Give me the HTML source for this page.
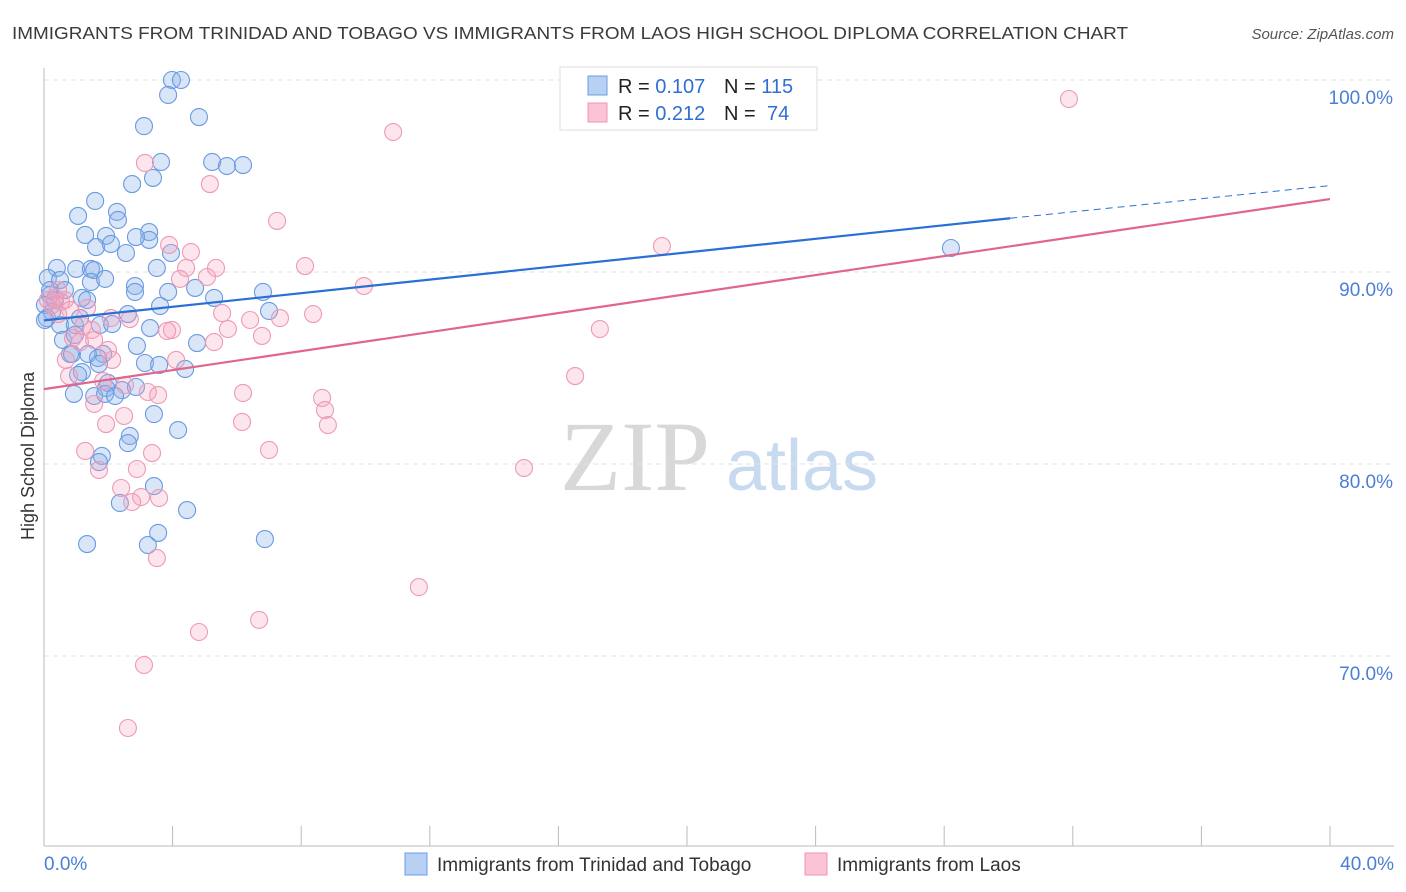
<!DOCTYPE html>
<html><head><meta charset="utf-8"><style>
body{margin:0;background:#fff;font-family:"Liberation Sans",sans-serif;}
svg{display:block}
</style></head><body>
<svg id="chart" width="1406" height="892" viewBox="0 0 1406 892">
<text x="12" y="39" font-size="17.5" fill="#3a3a3a" textLength="1116" lengthAdjust="spacingAndGlyphs">IMMIGRANTS FROM TRINIDAD AND TOBAGO VS IMMIGRANTS FROM LAOS HIGH SCHOOL DIPLOMA CORRELATION CHART</text>
<text x="1394" y="39" font-size="15" fill="#555" text-anchor="end" font-style="italic">Source: ZipAtlas.com</text>
<g>
<text x="635" y="490" font-size="100" fill="#d8d8d8" text-anchor="middle" font-family="Liberation Serif,serif">ZIP</text>
<text x="802" y="490" font-size="72" fill="#c8daf0" text-anchor="middle">atlas</text>
</g>
<g id="grid"></g>
<g id="axes"></g>
<g id="points"></g>
<g id="lines"></g>
<text transform="translate(34,456) rotate(-90)" font-size="18" fill="#333" text-anchor="middle">High School Diploma</text>
<g>
<rect x="560" y="67" width="257" height="63" fill="#fff" stroke="#ddd"/>
<rect x="588" y="76" width="19" height="19" fill="#b7d0f4" stroke="#6a9de0"/>
<rect x="588" y="103" width="19" height="19" fill="#fac4d4" stroke="#ec94b0"/>
<text x="618" y="93" font-size="20" fill="#222">R = <tspan fill="#2f6fd4">0.107</tspan><tspan x="724">N = </tspan><tspan fill="#2f6fd4">115</tspan></text>
<text x="618" y="120" font-size="20" fill="#222">R = <tspan fill="#2f6fd4">0.212</tspan><tspan x="724">N = </tspan><tspan fill="#2f6fd4" x="767">74</tspan></text>
</g>
<g>
<rect x="405" y="853" width="22" height="22" fill="#b7d0f4" stroke="#6a9de0"/>
<text x="437" y="871" font-size="19" fill="#333">Immigrants from Trinidad and Tobago</text>
<rect x="805" y="853" width="22" height="22" fill="#fac4d4" stroke="#ec94b0"/>
<text x="837" y="871" font-size="19" fill="#333">Immigrants from Laos</text>
</g>
</svg>
<script>
const yTicks=[70,80,90,100];
const yTickLabels=["70.0%","80.0%","90.0%","100.0%"];
const xTickLabels=["0.0%","40.0%"];
const bluePx=[[172,80],[181,80],[168,95],[199,117],[144,126],[161,162],[212,162],[227,166],[243,165],[132,184],[153,178],[95,201],[78,216],[117,212],[118,220],[85,235],[106,236],[149,232],[149,240],[136,237],[96,247],[111,244],[126,253],[171,253],[157,268],[57,268],[76,269],[91,269],[94,270],[48,278],[60,280],[91,282],[105,279],[135,286],[135,292],[168,292],[195,288],[214,298],[263,292],[160,306],[269,311],[50,295],[55,300],[82,298],[87,300],[45,305],[52,312],[47,318],[60,325],[75,325],[80,318],[100,325],[112,324],[128,314],[150,328],[63,340],[75,335],[137,346],[197,343],[70,354],[72,354],[88,354],[103,354],[98,358],[145,363],[159,365],[185,369],[82,372],[78,375],[99,364],[108,383],[106,388],[74,394],[94,396],[105,394],[122,390],[136,387],[115,396],[154,414],[178,430],[130,436],[128,443],[102,456],[99,462],[154,486],[120,503],[187,510],[158,533],[148,545],[87,544],[265,539],[951,248],[50,290],[65,290],[45,320]];
const pinkPx=[[1069,99],[393,132],[145,163],[210,184],[277,221],[169,245],[191,252],[305,266],[186,268],[216,268],[207,277],[180,279],[364,286],[662,246],[65,300],[61,302],[70,310],[58,314],[55,298],[87,308],[111,318],[130,319],[222,313],[250,320],[280,318],[313,314],[172,330],[228,329],[167,331],[262,336],[108,350],[73,338],[80,342],[112,360],[214,342],[600,329],[176,360],[69,376],[103,381],[125,385],[148,392],[158,395],[243,393],[322,398],[325,410],[328,425],[94,404],[124,416],[106,424],[242,422],[575,376],[85,451],[152,453],[269,450],[99,470],[137,469],[524,468],[121,488],[141,497],[132,502],[159,498],[157,558],[419,587],[199,632],[259,620],[144,665],[128,728],[48,300],[52,305],[58,290],[83,326],[92,330],[66,360],[94,340]];
const blueX=bluePx.map(p=>+((p[0]-44)/1286*40).toFixed(2));
const blueY=bluePx.map(p=>+(100-(p[1]-80)/19.2).toFixed(2));
const pinkX=pinkPx.map(p=>+((p[0]-44)/1286*40).toFixed(2));
const pinkY=pinkPx.map(p=>+(100-(p[1]-80)/19.2).toFixed(2));
const blueTrend=[87.48,92.8,94.5];
const pinkTrend=[83.9,93.8];
const X=v=>44+v/40*1286, Y=v=>80+(100-v)*19.2;
const NS="http://www.w3.org/2000/svg";
function mk(t,a,p){const e=document.createElementNS(NS,t);for(const k in a)e.setAttribute(k,a[k]);p.appendChild(e);return e;}
const grid=document.getElementById('grid'),axes=document.getElementById('axes'),pts=document.getElementById('points'),lines=document.getElementById('lines');
yTicks.forEach((v,i)=>{
 const l=mk('line',{x1:44,x2:1394,y1:Y(v),y2:Y(v),stroke:'#e2e2e2','stroke-dasharray':'5,4'},grid);
 
 
 const t=mk('text',{x:1393,y:Y(v)+24,'font-size':19,fill:'#4a7fd4','text-anchor':'end'},axes);
 t.textContent=yTickLabels[i];
 
 
});
const ax=mk('line',{x1:44,x2:44,y1:68,y2:846,stroke:'#bbb'},axes);


const bx=mk('line',{x1:44,x2:1394,y1:846,y2:846,stroke:'#bbb'},axes);


for(let i=0;i<=10;i++){const tk=mk('line',{x1:X(i*4),x2:X(i*4),y1:826,y2:846,stroke:'#bbb'},axes);
 
 }
[[0,'start',44],[1,'end',1394]].forEach(([i,a,x])=>{const t=mk('text',{x:x,y:870,'font-size':19,fill:'#4a7fd4','text-anchor':a},axes);t.textContent=xTickLabels[i];
 
 });
blueX.forEach((x,i)=>{const c=mk('circle',{cx:X(x),cy:Y(blueY[i]),r:8.5,fill:'rgba(140,180,235,0.33)',stroke:'#6a9ae0','stroke-width':1.1},pts);
 
 });
pinkX.forEach((x,i)=>{const c=mk('circle',{cx:X(x),cy:Y(pinkY[i]),r:8.5,fill:'rgba(245,160,190,0.28)',stroke:'#ee9ab5','stroke-width':1.1},pts);
 
 });
const b1=mk('line',{x1:X(0),y1:Y(blueTrend[0]),x2:X(30.05),y2:Y(blueTrend[1]),stroke:'#2a6fd6','stroke-width':2.2},lines);


const b2=mk('line',{x1:X(30.05),y1:Y(blueTrend[1]),x2:X(40),y2:Y(blueTrend[2]),stroke:'#2a6fd6','stroke-width':1,'stroke-dasharray':'7,5'},lines);


const p1=mk('line',{x1:X(0),y1:Y(pinkTrend[0]),x2:X(40),y2:Y(pinkTrend[1]),stroke:'#e0658f','stroke-width':2.2},lines);


</script>
</body></html>
